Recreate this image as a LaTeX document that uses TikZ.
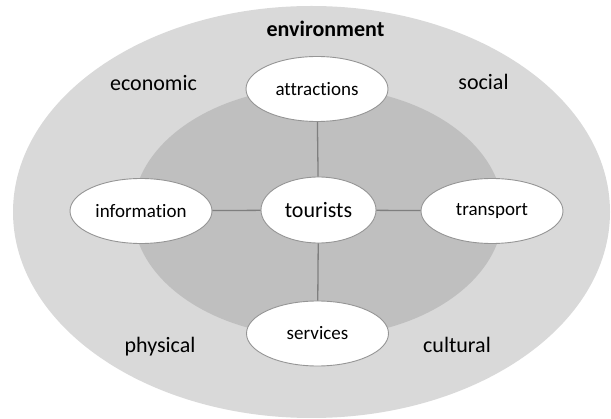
\documentclass[tikz,border=0pt]{standalone}
\usepackage{fontspec}
\setmainfont{Carlito}[Ligatures=CommonOff]
\usetikzlibrary{shapes.geometric}
\definecolor{outerfill}{HTML}{D9D9D9}
\definecolor{innerfill}{HTML}{BFBFBF}
\definecolor{rimgray}{HTML}{959595}
\definecolor{linegray}{HTML}{7F7F7F}
\tikzset{
  bubble/.style={ellipse, draw=rimgray, line width=0.9pt, fill=white, inner sep=0pt,
    minimum width=142pt, minimum height=65pt, font=\fontsize{19}{22}\selectfont},
  centrebubble/.style={bubble, minimum width=115pt, minimum height=66pt, font=\fontsize{22}{26}\selectfont},
  ringlabel/.style={anchor=base, inner sep=0pt, font=\fontsize{22}{26}\selectfont},
  conn/.style={draw=linegray, line width=1.3pt}
}
\begin{document}
\begin{tikzpicture}[x=1pt,y=-1pt]
\useasboundingbox (0,0) rectangle (611,419);
\fill[outerfill] (311.5,212) ellipse [x radius=298.5pt, y radius=206pt];
\fill[innerfill] (318,212) ellipse [x radius=185pt, y radius=125pt];

\node[ringlabel, font=\fontsize{22}{26}\selectfont\bfseries] (env) at (325.5,37) {environment};
\node[ringlabel] (eco) at (153.5,91) {economic};
\node[ringlabel] (soc) at (483.5,90) {social};
\node[ringlabel] (phy) at (160,353) {physical};
\node[ringlabel] (cul) at (457,353) {cultural};

\node[centrebubble] (tour) at (318.5,210) {tourists};
\node[bubble] (attr) at (317,89) {attractions};
\node[bubble] (info) at (141,211) {information};
\node[bubble] (trans) at (492,211) {transport};
\node[bubble] (serv) at (317.5,333.5) {services};

\draw[conn] (attr) -- (tour);
\draw[conn] (info) -- (tour);
\draw[conn] (tour) -- (trans);
\draw[conn] (tour) -- (serv);
\end{tikzpicture}
\end{document}
